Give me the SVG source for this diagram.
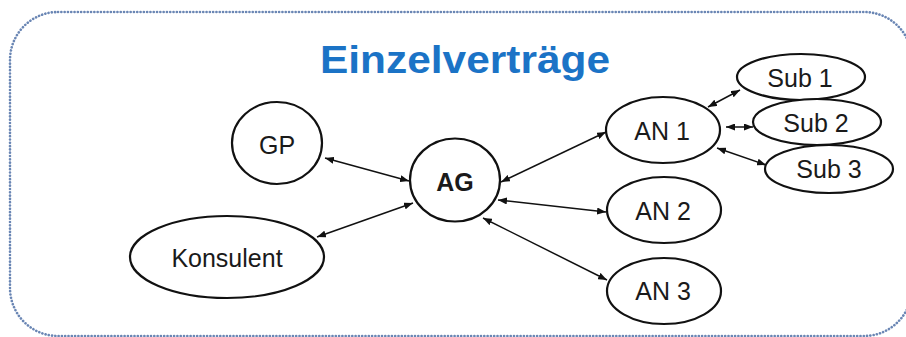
<svg xmlns="http://www.w3.org/2000/svg" width="906" height="337" viewBox="0 0 906 337">
  <defs>
    <marker id="tip" viewBox="0 0 9 7" refX="9" refY="3.5" markerWidth="9" markerHeight="7" markerUnits="userSpaceOnUse" orient="auto-start-reverse">
      <path d="M0,0 L9,3.5 L0,7 z" fill="#111"/>
    </marker>
  </defs>
  <style>
    .frame { fill: none; stroke: #6a86b4; stroke-width: 2.6; stroke-dasharray: 0.1 3.2; stroke-linecap: round; }
    .title { font-family: "Liberation Sans", Arial, sans-serif; font-weight: bold; font-size: 38px; fill: #1b73c6; }
    .node ellipse { fill: #fff; stroke: #111; stroke-width: 2.2; }
    .node text { font-family: "Liberation Sans", Arial, sans-serif; font-size: 25px; fill: #1a1a1a; text-anchor: middle; }
    .node text.bold { font-weight: bold; }
    .link { stroke: #111; stroke-width: 1.5; fill: none; marker-start: url(#tip); marker-end: url(#tip); }
  </style>
  <rect width="906" height="337" fill="#fff"/>
  <!-- dotted rounded frame -->
  <rect class="frame" x="10" y="12" width="902" height="324" rx="48" ry="48"/>
  <text class="title" x="320" y="73" textLength="290" lengthAdjust="spacingAndGlyphs">Einzelverträge</text>

  <!-- connectors -->
  <g id="connectors">
    <line class="link" x1="325" y1="158" x2="409" y2="181"/>
    <line class="link" x1="317" y1="237" x2="413" y2="203"/>
    <line class="link" x1="501" y1="182" x2="606" y2="132"/>
    <line class="link" x1="498" y1="200" x2="606" y2="212"/>
    <line class="link" x1="483" y1="218" x2="607" y2="280"/>
    <line class="link" x1="708" y1="107" x2="740" y2="90"/>
    <line class="link" x1="726" y1="127" x2="753" y2="127"/>
    <line class="link" x1="717" y1="148" x2="766" y2="165"/>
  </g>

  <!-- nodes -->
  <g id="GP" class="node">
    <ellipse cx="277" cy="143" rx="45" ry="41"/>
    <text x="277" y="154">GP</text>
  </g>
  <g id="Konsulent" class="node">
    <ellipse cx="227" cy="257" rx="97" ry="41"/>
    <text x="227" y="267">Konsulent</text>
  </g>
  <g id="AG" class="node">
    <ellipse cx="455" cy="180" rx="45" ry="41.5"/>
    <text class="bold" x="455" y="191">AG</text>
  </g>
  <g id="AN1" class="node">
    <ellipse cx="663" cy="130" rx="57" ry="33"/>
    <text x="662" y="140">AN 1</text>
  </g>
  <g id="AN2" class="node">
    <ellipse cx="664" cy="210" rx="57" ry="33"/>
    <text x="663" y="220">AN 2</text>
  </g>
  <g id="AN3" class="node">
    <ellipse cx="664" cy="291" rx="57" ry="33"/>
    <text x="663" y="300">AN 3</text>
  </g>
  <g id="Sub1" class="node">
    <ellipse cx="801" cy="77" rx="64" ry="23"/>
    <text x="800" y="87">Sub 1</text>
  </g>
  <g id="Sub2" class="node">
    <ellipse cx="817" cy="122" rx="64" ry="23"/>
    <text x="816" y="132">Sub 2</text>
  </g>
  <g id="Sub3" class="node">
    <ellipse cx="829" cy="169" rx="64" ry="24"/>
    <text x="829" y="178">Sub 3</text>
  </g>
</svg>
